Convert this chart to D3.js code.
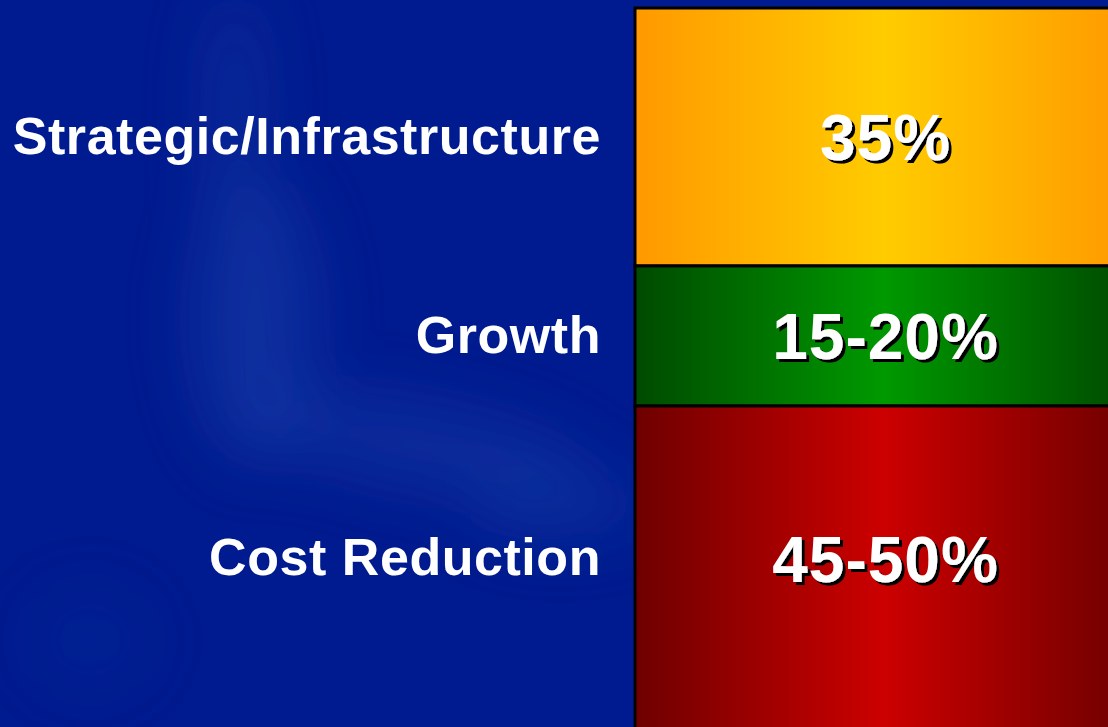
<!DOCTYPE html>
<html>
<head>
<meta charset="utf-8">
<script src="https://cdn.jsdelivr.net/npm/d3@7"></script>
<style>
  html, body { margin: 0; padding: 0; background: #001b8f; overflow: hidden; }
  svg { display: block; }
  text { font-family: "Liberation Sans", Arial, sans-serif; font-weight: bold; }
</style>
</head>
<body>
<svg id="chart" width="1108" height="727"></svg>
<script>
// ---- data ----
const categories = ["Strategic/Infrastructure", "Growth", "Cost Reduction"];
const shares = [35, 19, 46];               // segment sizes
const valueLabels = ["35%", "15-20%", "45-50%"];
const gradientStops = [
  ["#ff9900", "#ffcc00"],
  ["#004a00", "#009900"],
  ["#6e0000", "#cc0000"]
];

const W = 1108, H = 727;
const svg = d3.select("#chart");
const defs = svg.append("defs");

// background
const bgBlur = defs.append("filter").attr("id", "bgblur")
  .attr("x", "-50%").attr("y", "-50%").attr("width", "200%").attr("height", "200%");
bgBlur.append("feGaussianBlur").attr("stdDeviation", 32);

// text shadow filter
const sh = defs.append("filter").attr("id", "shadow")
  .attr("x", "-10%").attr("y", "-20%").attr("width", "130%").attr("height", "150%");
sh.append("feOffset").attr("in", "SourceAlpha").attr("dx", 3).attr("dy", 3).attr("result", "off");
sh.append("feFlood").attr("flood-color", "#000").attr("result", "blk");
sh.append("feComposite").attr("in", "blk").attr("in2", "off").attr("operator", "in").attr("result", "shad");
const m = sh.append("feMerge");
m.append("feMergeNode").attr("in", "shad");
m.append("feMergeNode").attr("in", "SourceGraphic");

svg.append("rect").attr("width", W).attr("height", H).attr("fill", "#001b8f");
const glow = svg.append("g").attr("filter", "url(#bgblur)").attr("fill", "#2a5cc0");
const glowShapes = [
  {cx: 235, cy: 110, rx: 25, ry: 120, o: 0.25, r: 0},
  {cx: 255, cy: 320, rx: 60, ry: 140, o: 0.30, r: 0},
  {cx: 420, cy: 445, rx: 170, ry: 40, o: 0.26, r: 10},
  {cx: 560, cy: 505, rx: 90, ry: 30, o: 0.24, r: 0},
  {cx: 90, cy: 640, rx: 60, ry: 50, o: 0.08, r: 0}
];
glow.selectAll("ellipse").data(glowShapes).join("ellipse")
  .attr("cx", d => d.cx).attr("cy", d => d.cy)
  .attr("rx", d => d.rx).attr("ry", d => d.ry)
  .attr("opacity", d => d.o)
  .attr("transform", d => `rotate(${d.r},${d.cx},${d.cy})`);

// gradients
categories.forEach((c, i) => {
  const g = defs.append("linearGradient").attr("id", "grad" + i)
    .attr("x1", "0%").attr("x2", "100%").attr("y1", "0%").attr("y2", "0%");
  g.append("stop").attr("offset", "0%").attr("stop-color", gradientStops[i][0]);
  g.append("stop").attr("offset", "50%").attr("stop-color", gradientStops[i][1]);
  g.append("stop").attr("offset", "100%").attr("stop-color", gradientStops[i][0]);
});

// scales
const y = d3.scaleLinear().domain([0, 100]).range([8, 745]);
const x0 = 635, x1 = 1132;

let acc = 0;
const segs = shares.map((v, i) => {
  const s = {i, cat: categories[i], label: valueLabels[i], y0: acc, y1: acc + v};
  acc += v;
  return s;
});

const col = svg.append("g");
col.selectAll("rect").data(segs).join("rect")
  .attr("x", x0)
  .attr("y", d => y(d.y0))
  .attr("width", x1 - x0)
  .attr("height", d => y(d.y1) - y(d.y0))
  .attr("fill", d => `url(#grad${d.i})`)
  .attr("stroke", "#000")
  .attr("stroke-width", 3);

const midY = d => (y(d.y0) + Math.min(y(d.y1), 711)) / 2;
const cx = (x0 + x1) / 2 + 2;

// value labels with shadow
svg.append("g").attr("text-anchor", "middle").attr("font-size", 64)
  .attr("filter", "url(#shadow)")
  .selectAll("text").data(segs).join("text")
  .attr("x", cx).attr("y", d => midY(d)).attr("dy", "0.36em")
  .attr("letter-spacing", 1)
  .attr("fill", "#fff").text(d => d.label);

// category labels
svg.append("g").attr("text-anchor", "end").attr("font-size", 52)
  .selectAll("text").data(segs).join("text")
  .attr("x", 601)
  .attr("y", d => midY(d) - 2)
  .attr("dy", "0.36em")
  .attr("letter-spacing", 0.55)
  .attr("fill", "#fff")
  .text(d => d.cat);
</script>
</body>
</html>
